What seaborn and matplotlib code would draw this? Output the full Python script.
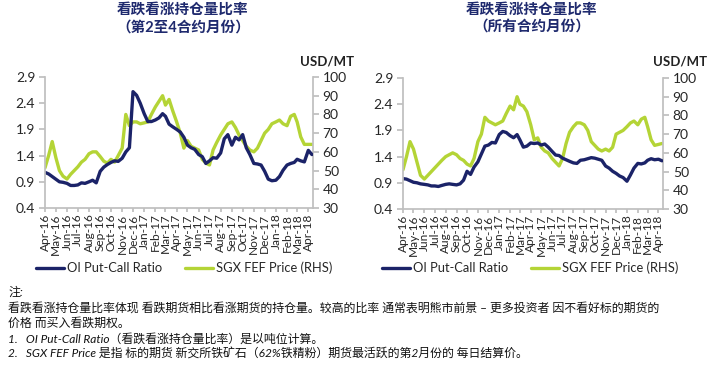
import pandas as pd
import matplotlib
matplotlib.use("Agg")
import matplotlib.pyplot as plt
import matplotlib.dates as mdates
import seaborn as sns

# -----------------------------
# Data (~3 points per month)
# -----------------------------
months = pd.date_range("2016-04-01", "2018-04-01", freq="MS")
dates = [m + pd.Timedelta(days=d) for m in months for d in (0, 10, 20)][:74]

# 2nd-4th contract months
ratio_front = [1.08, 1.05, 1.00, 0.95, 0.90, 0.89, 0.87, 0.83, 0.83,
               0.84, 0.88, 0.87, 0.90, 0.93, 0.88, 1.10, 1.18, 1.23,
               1.27, 1.30, 1.29, 1.35, 1.47, 1.55, 2.62, 2.55, 2.40,
               2.20, 2.05, 2.05, 2.08, 2.12, 2.20, 2.15, 2.00, 1.95,
               1.90, 1.85, 1.75, 1.60, 1.55, 1.52, 1.42, 1.38, 1.25,
               1.30, 1.36, 1.35, 1.45, 1.72, 1.80, 1.60, 1.75, 1.70,
               1.80, 1.55, 1.42, 1.25, 1.24, 1.22, 1.10, 0.95, 0.92,
               0.93, 1.00, 1.12, 1.22, 1.25, 1.27, 1.33, 1.30, 1.28,
               1.50, 1.42]
price_front = [51.5, 58, 65.5, 57, 50, 47, 45.5, 48, 50,
               52, 54.5, 56, 59, 60, 60, 57.5, 55, 54,
               56, 54.5, 58, 62, 80, 74, 76, 76, 75,
               75.5, 76, 80, 84, 87, 90, 85, 88, 82,
               76, 70, 62, 66, 63, 62, 61, 56, 54,
               53, 61, 65, 69, 72, 75, 76, 73, 69,
               66, 63, 61, 60, 62, 66, 70, 72, 75,
               76, 77, 75, 74, 79, 80, 76, 68, 64,
               64, 64]

# all contract months
ratio_all = [0.98, 0.97, 0.94, 0.91, 0.90, 0.88, 0.87, 0.86, 0.84,
             0.84, 0.83, 0.85, 0.87, 0.88, 0.87, 0.86, 0.88, 0.95,
             1.12, 1.06, 1.20, 1.30, 1.45, 1.60, 1.62, 1.67, 1.66,
             1.82, 1.88, 1.86, 1.80, 1.76, 1.82, 1.72, 1.58, 1.60,
             1.66, 1.65, 1.66, 1.62, 1.64, 1.58, 1.50, 1.43, 1.42,
             1.37, 1.34, 1.31, 1.28, 1.27, 1.33, 1.34, 1.36, 1.38,
             1.37, 1.35, 1.33, 1.22, 1.18, 1.12, 1.08, 1.03, 1.00,
             0.93, 1.05, 1.18, 1.27, 1.26, 1.28, 1.33, 1.36, 1.34,
             1.35, 1.32]
price_all = [51, 58, 66, 62, 55, 48, 46, 48, 50,
             52, 54, 56, 58, 59, 60, 59, 57, 56,
             54, 53, 57, 66, 70, 79, 77, 76, 75,
             76, 77, 81, 85, 83, 90, 86, 85, 82,
             75, 67, 68, 63, 61, 60, 57, 55, 53,
             57, 65, 71, 74, 76, 76, 75, 72, 66,
             64, 62, 61, 62, 61, 63, 70, 71, 72,
             74, 76, 77, 75, 78, 79, 74, 67, 64,
             64.5, 65]

left_ticks = [0.4, 0.9, 1.4, 1.9, 2.4, 2.9]
right_ticks = [30, 40, 50, 60, 70, 80, 90, 100]

NAVY = "#1b2368"
LIME = "#b4d436"
GREY = "#bfbfbf"
TITLE_C = "#1f2a6e"
W, H = 708, 369

sns.set_theme(style="ticks")
plt.rcParams["font.family"] = ["Lato", "Noto Sans CJK SC", "DejaVu Sans"]


# -----------------------------
# One panel
# -----------------------------
def draw_panel(fig, rect, ratio, price, title, title_x, usd_x, legend_x):
    ax = fig.add_axes(rect)
    ax2 = ax.twinx()
    sns.lineplot(x=dates, y=price, ax=ax2, color=LIME, lw=2.4, legend=False)
    sns.lineplot(x=dates, y=ratio, ax=ax, color=NAVY, lw=2.4, legend=False)
    ax.set_zorder(ax2.get_zorder() + 1)
    ax.patch.set_visible(False)

    ax.set_xlim(pd.Timestamp("2016-04-01"), pd.Timestamp("2018-04-14"))
    ax.set_ylim(0.4, 2.9)
    ax2.set_ylim(30, 100)
    ax.set_yticks(left_ticks)
    ax.set_yticklabels([f"{v:.1f}" for v in left_ticks])
    ax2.set_yticks(right_ticks)

    ax.xaxis.set_major_locator(mdates.MonthLocator())
    ax.xaxis.set_major_formatter(mdates.DateFormatter("%b-%y"))
    ax.tick_params(axis="x", rotation=90, labelsize=8.6, length=3, color=GREY, pad=1)
    ax.tick_params(axis="y", labelsize=10, length=4, color=GREY, pad=3)
    ax2.tick_params(axis="y", labelsize=10, length=4, color=GREY, pad=3)
    ax.set_xlabel("")
    ax.set_ylabel("")
    ax2.set_ylabel("")

    for a in (ax, ax2):
        a.spines["top"].set_visible(False)
        for s in ("left", "bottom", "right"):
            a.spines[s].set_color(GREY)
    ax.spines["right"].set_visible(False)
    ax2.spines["left"].set_visible(False)
    ax2.spines["bottom"].set_visible(False)

    handles = [ax.get_lines()[0], ax2.get_lines()[0]]
    labels = ["OI Put-Call Ratio", "SGX FEF Price (RHS)"]
    ax.legend(handles, labels, loc="center", bbox_to_anchor=(legend_x, 1 - 268 / H),
              bbox_transform=fig.transFigure, ncol=2, frameon=False, fontsize=9.3,
              handlelength=2.2, columnspacing=1.8, handletextpad=0.2,
              borderpad=0, borderaxespad=0)

    fig.text(title_x, 1 - 3 / H, title, ha="center", va="top", fontsize=10.5,
             fontweight="bold", color=TITLE_C, linespacing=1.35)
    fig.text(usd_x, 1 - 61 / H, "USD/MT", ha="center", va="center",
             fontsize=9.5, fontweight="bold", color="#222222")


def main():
    fig = plt.figure(figsize=(W / 100, H / 100), dpi=100)
    draw_panel(fig, [45 / W, 1 - 208 / H, 268 / W, 131 / H], ratio_front, price_front,
               "看跌看涨持仓量比率\n（第2至4合约月份）", 183 / W, 327 / W, 184 / W)
    draw_panel(fig, [403 / W, 1 - 209 / H, 260 / W, 131 / H], ratio_all, price_all,
               "看跌看涨持仓量比率\n（所有合约月份）", 532 / W, 680 / W, 530 / W)

    note_kw = dict(fontsize=8.6, color="#111111", ha="left", va="center")
    fig.text(8 / W, 1 - 292 / H, "注:", style="italic", **note_kw)
    fig.text(8 / W, 1 - 308 / H,
             "看跌看涨持仓量比率体现 看跌期货相比看涨期货的持仓量。较高的比率 通常表明熊市前景 – 更多投资者 因不看好标的期货的",
             **note_kw)
    fig.text(8 / W, 1 - 323 / H, "价格 而买入看跌期权。", **note_kw)
    fig.text(8 / W, 1 - 339 / H,
             "1.   OI Put-Call Ratio（看跌看涨持仓量比率）是以吨位计算。",
             style="italic", **note_kw)
    fig.text(8 / W, 1 - 354 / H,
             "2.   SGX FEF Price 是指 标的期货 新交所铁矿石（62%铁精粉）期货最活跃的第2月份的 每日结算价。",
             style="italic", **note_kw)

    fig.savefig("out.png", dpi=100)


if __name__ == "__main__":
    main()
